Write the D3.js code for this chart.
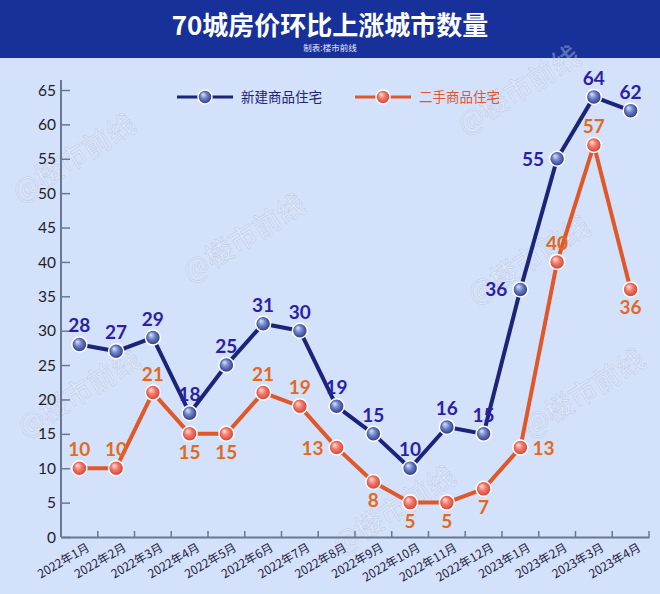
<!DOCTYPE html>
<html>
<head>
<meta charset="utf-8">
<script src="https://cdn.jsdelivr.net/npm/d3@7"></script>
<style>
  body { margin: 0; background: #d4e1fa; }
  svg { display: block; font-family: "Noto Sans CJK SC", "Noto Sans", sans-serif; }
</style>
</head>
<body>
<div class="canvas"></div>
<script>
// chart data
const months = ["2022年1月", "2022年2月", "2022年3月", "2022年4月", "2022年5月", "2022年6月", "2022年7月", "2022年8月",
  "2022年9月", "2022年10月", "2022年11月", "2022年12月", "2023年1月", "2023年2月", "2023年3月", "2023年4月"];
const newHomes = [28, 27, 29, 18, 25, 31, 30, 19, 15, 10, 16, 15, 36, 55, 64, 62];
const usedHomes = [10, 10, 21, 15, 15, 21, 19, 13, 8, 5, 5, 7, 13, 40, 57, 36];
const yTicks = [0, 5, 10, 15, 20, 25, 30, 35, 40, 45, 50, 55, 60, 65];
const seriesNames = ["新建商品住宅", "二手商品住宅"];

// where each value label sits: t = top, b = below, l = left, r = right
const newLabelSide = ["t", "t", "t", "t", "t", "t", "t", "t", "t", "t", "t", "t", "l", "l", "t", "t"];
const usedLabelSide = ["t", "t", "t", "b", "b", "t", "t", "l", "b", "b", "b", "b", "r", "t", "t", "b"];

// margins and dimensions
const w = 660;
const h = 594;
const margin = { top: 80, left: 61, right: 11, bottom: 57 };

const svg = d3.select(".canvas").append("svg").attr("width", w).attr("height", h);

const defs = svg.append("defs");
function ball(id, light, mid, dark) {
  const g = defs.append("radialGradient").attr("id", id)
    .attr("cx", "50%").attr("cy", "50%").attr("r", "55%").attr("fx", "35%").attr("fy", "30%");
  g.append("stop").attr("offset", "0%").attr("stop-color", light);
  g.append("stop").attr("offset", "45%").attr("stop-color", mid);
  g.append("stop").attr("offset", "100%").attr("stop-color", dark);
}
ball("navyBall", "#dfe6fb", "#6d7fc8", "#1f2b78");
ball("orangeBall", "#ffe2da", "#f2786a", "#c83a2c");

// background + header
svg.append("rect").attr("width", w).attr("height", h).attr("fill", "#d4e1fa");
svg.append("rect").attr("width", w).attr("height", 58).attr("fill", "#17309a");
svg.append("text").attr("x", w / 2).attr("y", 35).attr("text-anchor", "middle")
  .attr("fill", "#fff").attr("font-size", 26).attr("font-weight", 700).text("70城房价环比上涨城市数量");
svg.append("text").attr("x", w / 2).attr("y", 51).attr("text-anchor", "middle")
  .attr("fill", "#e8ecff").attr("font-size", 8.5).text("制表:楼市前线");

// watermarks
const marks = [[75, 160], [245, 240], [520, 92], [530, 262], [395, 512], [80, 395], [585, 395]];
svg.append("g").selectAll("text").data(marks).join("text")
  .attr("transform", (d) => `translate(${d[0]},${d[1]}) rotate(-32)`)
  .attr("text-anchor", "middle").attr("dominant-baseline", "middle")
  .attr("font-size", 28).attr("fill", "#ffffff").attr("fill-opacity", 0.3)
  .attr("stroke", "#93a2c4").attr("stroke-opacity", 0.3).attr("stroke-width", 0.8)
  .text("@楼市前线");

// scales
const x = d3.scaleBand().domain(months).range([margin.left, w - margin.right]);
const y = d3.scaleLinear().domain([0, 65]).range([h - margin.bottom, 90]);
const cx = (i) => x(months[i]) + x.bandwidth() / 2;

// y axis
const axisColor = "#6b7790";
const yAxis = svg.append("g").attr("transform", `translate(${margin.left},0)`)
  .call(d3.axisRight(y).tickValues(yTicks).tickSize(9).tickFormat(""));
yAxis.select(".domain").remove();
yAxis.selectAll("line").attr("stroke", axisColor).attr("stroke-width", 1.5);
svg.append("line").attr("x1", margin.left).attr("x2", margin.left)
  .attr("y1", margin.top).attr("y2", y(0)).attr("stroke", axisColor).attr("stroke-width", 2);
svg.append("g").selectAll("text").data(yTicks).join("text")
  .attr("x", margin.left - 5).attr("y", (d) => y(d)).attr("dy", "0.36em")
  .attr("text-anchor", "end").attr("font-family", "Lato, sans-serif").attr("font-size", 15.5)
  .attr("fill", "#1c1f2a").text((d) => d);

// x axis
const xAxis = svg.append("g").attr("transform", `translate(0,${y(0)})`)
  .call(d3.axisTop(x).tickSize(0).tickFormat(""));
xAxis.select(".domain").attr("stroke", axisColor).attr("stroke-width", 2);
svg.append("g").selectAll("line").data(months).join("line")
  .attr("x1", (d) => x(d) + x.bandwidth()).attr("x2", (d) => x(d) + x.bandwidth())
  .attr("y1", y(0)).attr("y2", y(0) - 6).attr("stroke", axisColor).attr("stroke-width", 1.5);
svg.append("g").selectAll("text").data(months).join("text")
  .attr("transform", (d, i) => `translate(${cx(i) + 11},${y(0) + 13}) rotate(-30)`)
  .attr("text-anchor", "end").attr("font-size", 12).attr("fill", "#1c2340").text((d) => d);

// series
const series = [
  { name: seriesNames[0], values: newHomes, sides: newLabelSide, line: "#1b2478", text: "#2b1fa6", ball: "url(#navyBall)" },
  { name: seriesNames[1], values: usedHomes, sides: usedLabelSide, line: "#e0582a", text: "#e06a22", ball: "url(#orangeBall)" }
];
const line = d3.line().x((d, i) => cx(i)).y((d) => y(d));

// draw orange first so navy sits on top
series.slice().reverse().forEach((s) => {
  svg.append("path").attr("d", line(s.values)).attr("fill", "none")
    .attr("stroke", s.line).attr("stroke-width", 4).attr("stroke-linejoin", "round");
});
series.slice().reverse().forEach((s) => {
  svg.append("g").selectAll("circle").data(s.values).join("circle")
    .attr("cx", (d, i) => cx(i)).attr("cy", (d) => y(d)).attr("r", 7.5)
    .attr("fill", s.ball).attr("stroke", "#ffffff").attr("stroke-width", 1.5);
  svg.append("g").selectAll("text").data(s.values).join("text")
    .attr("x", (d, i) => {
      const side = s.sides[i];
      if (side === "l") return cx(i) - 13;
      if (side === "r") return cx(i) + 12;
      return cx(i);
    })
    .attr("y", (d, i) => {
      const side = s.sides[i];
      if (side === "t") return y(d) - 12;
      if (side === "b") return y(d) + 25;
      return y(d) + 7;
    })
    .attr("text-anchor", (d, i) => {
      const side = s.sides[i];
      if (side === "l") return "end";
      if (side === "r") return "start";
      return "middle";
    })
    .attr("font-family", "Lato, 'Noto Sans', sans-serif").attr("font-weight", 700).attr("font-size", 19)
    .attr("fill", s.text).text((d) => d);
});

// legend
const legend = svg.append("g").attr("transform", "translate(0,97)");
const legendX = [177, 355];
series.forEach((s, k) => {
  const lx = legendX[k];
  legend.append("line").attr("x1", lx).attr("x2", lx + 56).attr("stroke", s.line).attr("stroke-width", 3);
  legend.append("circle").attr("cx", lx + 28).attr("r", 7).attr("fill", s.ball)
    .attr("stroke", "#fff").attr("stroke-width", 1.5);
  legend.append("text").attr("x", lx + 64).attr("dy", "0.35em").attr("font-size", 13.5)
    .attr("fill", k === 0 ? "#1b2478" : "#e0582a").text(s.name);
});
</script>
</body>
</html>
